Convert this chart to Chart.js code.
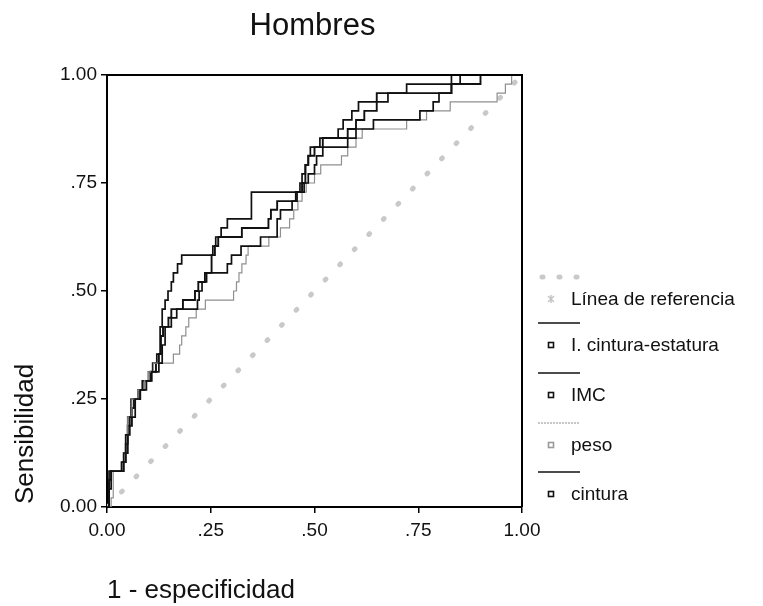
<!DOCTYPE html>
<html>
<head>
<meta charset="utf-8">
<script src="https://cdn.jsdelivr.net/npm/chart.js@4.4.1/dist/chart.umd.min.js"></script>
<style>
  html, body { margin: 0; padding: 0; background: #fff; }
  #wrap { width: 763px; height: 606px; }
</style>
</head>
<body>
<div id="wrap"><canvas id="c" width="763" height="606"></canvas></div>
<script>
// ---- Data ----
const chartTitle = 'Hombres';
const xAxisTitle = '1 - especificidad';
const yAxisTitle = 'Sensibilidad';
const tickValues = [0, 0.25, 0.5, 0.75, 1];
const xTickLabels = ['0.00', '.25', '.50', '.75', '1.00'];
const yTickLabels = ['0.00', '.25', '.50', '.75', '1.00'];
const seriesNames = ['Línea de referencia', 'I. cintura-estatura', 'IMC', 'peso', 'cintura'];

// Reference line
const refX = [0, 1];
const refY = [0, 1];

// I. cintura-estatura (1 - especificidad, sensibilidad)
const ceX = [0, 0.005, 0.04, 0.045, 0.05, 0.058, 0.075, 0.085, 0.1, 0.11, 0.12, 0.128, 0.133, 0.14, 0.147, 0.155, 0.16, 0.17, 0.18, 0.255, 0.262, 0.275, 0.29, 0.348, 0.465, 0.47, 0.478, 0.485, 0.49, 0.513, 0.557, 0.569, 0.59, 0.606, 0.677, 0.722, 0.83, 1.0];
const ceY = [0, 0.083, 0.104, 0.146, 0.208, 0.25, 0.271, 0.292, 0.313, 0.333, 0.354, 0.417, 0.458, 0.479, 0.5, 0.521, 0.542, 0.563, 0.583, 0.604, 0.625, 0.646, 0.667, 0.729, 0.75, 0.771, 0.792, 0.813, 0.833, 0.854, 0.875, 0.896, 0.917, 0.938, 0.958, 0.979, 1.0, 1.0];

// IMC
const imcX = [0, 0.005, 0.01, 0.04, 0.045, 0.05, 0.06, 0.065, 0.08, 0.09, 0.105, 0.118, 0.125, 0.13, 0.135, 0.148, 0.155, 0.183, 0.212, 0.22, 0.236, 0.252, 0.26, 0.268, 0.325, 0.389, 0.395, 0.41, 0.455, 0.47, 0.478, 0.485, 0.5, 0.52, 0.58, 0.6, 0.62, 0.65, 0.83, 0.9, 1.0];
const imcY = [0, 0.063, 0.083, 0.104, 0.125, 0.188, 0.229, 0.25, 0.271, 0.292, 0.313, 0.333, 0.354, 0.396, 0.417, 0.438, 0.458, 0.479, 0.5, 0.521, 0.542, 0.583, 0.604, 0.625, 0.646, 0.667, 0.688, 0.708, 0.729, 0.75, 0.792, 0.813, 0.833, 0.854, 0.875, 0.896, 0.917, 0.958, 0.979, 1.0, 1.0];

// peso
const pesoX = [0, 0.01, 0.015, 0.035, 0.04, 0.045, 0.05, 0.06, 0.075, 0.09, 0.1, 0.112, 0.16, 0.175, 0.18, 0.19, 0.197, 0.215, 0.237, 0.305, 0.312, 0.318, 0.325, 0.335, 0.34, 0.39, 0.418, 0.44, 0.45, 0.46, 0.47, 0.48, 0.5, 0.515, 0.565, 0.58, 0.6, 0.615, 0.722, 0.77, 0.827, 0.94, 0.96, 0.975, 1.0];
const pesoY = [0, 0.021, 0.083, 0.104, 0.125, 0.167, 0.208, 0.25, 0.271, 0.292, 0.313, 0.333, 0.354, 0.375, 0.396, 0.417, 0.438, 0.458, 0.479, 0.5, 0.521, 0.542, 0.563, 0.583, 0.604, 0.625, 0.646, 0.667, 0.688, 0.708, 0.729, 0.75, 0.771, 0.792, 0.813, 0.833, 0.854, 0.875, 0.896, 0.917, 0.938, 0.958, 0.979, 1.0, 1.0];

// cintura
const cinX = [0, 0.005, 0.01, 0.035, 0.04, 0.045, 0.055, 0.068, 0.08, 0.095, 0.108, 0.125, 0.133, 0.14, 0.155, 0.168, 0.218, 0.222, 0.229, 0.24, 0.29, 0.3, 0.323, 0.37, 0.41, 0.418, 0.446, 0.458, 0.475, 0.485, 0.5, 0.505, 0.52, 0.58, 0.6, 0.642, 0.754, 0.786, 0.8, 0.83, 0.851, 1.0];
const cinY = [0, 0.042, 0.083, 0.104, 0.125, 0.167, 0.208, 0.25, 0.271, 0.292, 0.313, 0.333, 0.375, 0.417, 0.438, 0.458, 0.479, 0.5, 0.521, 0.542, 0.563, 0.583, 0.604, 0.625, 0.667, 0.688, 0.708, 0.729, 0.75, 0.771, 0.792, 0.813, 0.833, 0.854, 0.875, 0.896, 0.917, 0.938, 0.958, 0.979, 1.0, 1.0];

// ---- Build ----
const FONT = '"Liberation Sans", Arial, Helvetica, sans-serif';
const pts = (xs, ys) => xs.map((x, i) => ({ x: x, y: ys[i] }));

const styles = [
  { color: '#c9c9c9', width: 5, dash: [1, 20] },
  { color: '#111111', width: 1.7, dash: [] },
  { color: '#111111', width: 1.9, dash: [] },
  { color: '#8f8f8f', width: 1.2, dash: [] },
  { color: '#111111', width: 1.7, dash: [] }
];
const seriesData = [pts(refX, refY), pts(ceX, ceY), pts(imcX, imcY), pts(pesoX, pesoY), pts(cinX, cinY)];

const datasets = seriesData.map((d, i) => ({
  label: seriesNames[i],
  data: d,
  showLine: true,
  stepped: i === 0 ? false : 'before',
  borderColor: styles[i].color,
  borderWidth: styles[i].width,
  borderDash: styles[i].dash,
  borderCapStyle: i === 0 ? 'round' : 'butt',
  pointRadius: 0,
  fill: false,
  order: i === 0 ? 10 : 5 - i
}));

const decor = {
  id: 'decor',
  afterDatasetsDraw(chart) {
    const { ctx, chartArea: a } = chart;
    ctx.save();
    ctx.strokeStyle = '#000';
    ctx.lineWidth = 2;
    ctx.beginPath();
    ctx.moveTo(a.left, a.top);
    ctx.lineTo(a.right, a.top);
    ctx.lineTo(a.right, a.bottom);
    ctx.stroke();
    ctx.restore();
  },
  afterDraw(chart) {
    const { ctx, chartArea: a } = chart;
    ctx.save();
    ctx.fillStyle = '#111';
    // title
    ctx.font = '31px ' + FONT;
    ctx.textAlign = 'center';
    ctx.textBaseline = 'middle';
    ctx.fillText(chartTitle, (a.left + a.right) / 2 - 2, 26);
    // x title
    ctx.font = '26px ' + FONT;
    ctx.textAlign = 'left';
    ctx.textBaseline = 'alphabetic';
    ctx.fillText(xAxisTitle, a.left, 598);
    // y title
    ctx.save();
    ctx.translate(33, a.bottom - 3);
    ctx.rotate(-Math.PI / 2);
    ctx.textAlign = 'left';
    ctx.textBaseline = 'alphabetic';
    ctx.fillText(yAxisTitle, 0, 0);
    ctx.restore();

    // legend
    const lx0 = 538, lx1 = 580, mx = 551, tx = 571;
    const tops = [277, 323, 373, 423, 472];
    ctx.font = '19px ' + FONT;
    ctx.textBaseline = 'middle';
    ctx.textAlign = 'left';
    tops.forEach((ly, i) => {
      const st = styles[i];
      ctx.save();
      ctx.strokeStyle = st.color;
      if (i === 0) {
        ctx.lineWidth = 5; ctx.setLineDash([1, 16]); ctx.lineCap = 'round';
      } else if (i === 3) {
        ctx.lineWidth = 1.2; ctx.setLineDash([2, 1]);
      } else {
        ctx.lineWidth = 1.6;
      }
      ctx.beginPath();
      ctx.moveTo(lx0 + (i === 0 ? 4 : 0), ly);
      ctx.lineTo(lx1, ly);
      ctx.stroke();
      ctx.restore();
      const my = ly + 22;
      ctx.save();
      if (i === 0) {
        ctx.strokeStyle = '#c6c6c6';
        ctx.lineWidth = 1.5;
        ctx.beginPath();
        ctx.moveTo(mx - 3, my - 3); ctx.lineTo(mx + 3, my + 3);
        ctx.moveTo(mx + 3, my - 3); ctx.lineTo(mx - 3, my + 3);
        ctx.moveTo(mx, my - 4); ctx.lineTo(mx, my + 4);
        ctx.stroke();
      } else {
        ctx.strokeStyle = i === 3 ? '#9a9a9a' : '#111';
        ctx.lineWidth = 1.6;
        ctx.strokeRect(mx - 2.5, my - 2.5, 5, 5);
      }
      ctx.restore();
      ctx.fillStyle = '#111';
      ctx.fillText(seriesNames[i], tx, my + 1);
    });
    ctx.restore();
  }
};

new Chart(document.getElementById('c'), {
  type: 'scatter',
  data: { datasets },
  options: {
    responsive: false,
    animation: false,
    events: [],
    layout: { padding: { left: 0, right: 241, top: 75, bottom: 0 } },
    plugins: { legend: { display: false }, title: { display: false }, tooltip: { enabled: false } },
    scales: {
      x: {
        type: 'linear', min: 0, max: 1, position: 'bottom',
        afterFit: s => { s.height = 99; },
        afterBuildTicks: s => { s.ticks = tickValues.map(v => ({ value: v })); },
        ticks: {
          callback: (v, i) => xTickLabels[i],
          font: { size: 19, family: FONT }, color: '#111', padding: 6,
          maxRotation: 0, autoSkip: false
        },
        grid: { display: true, drawOnChartArea: false, drawTicks: true, tickLength: 6, color: '#000', lineWidth: 1.5 },
        border: { display: true, color: '#000', width: 2 }
      },
      y: {
        type: 'linear', min: 0, max: 1, position: 'left',
        afterFit: s => { s.width = 107; },
        afterBuildTicks: s => { s.ticks = tickValues.map(v => ({ value: v })); },
        ticks: {
          callback: (v, i) => yTickLabels[i],
          font: { size: 19, family: FONT }, color: '#111', padding: 4,
          autoSkip: false
        },
        grid: { display: true, drawOnChartArea: false, drawTicks: true, tickLength: 6, color: '#000', lineWidth: 1.5 },
        border: { display: true, color: '#000', width: 2 }
      }
    }
  },
  plugins: [decor]
});
</script>
</body>
</html>
